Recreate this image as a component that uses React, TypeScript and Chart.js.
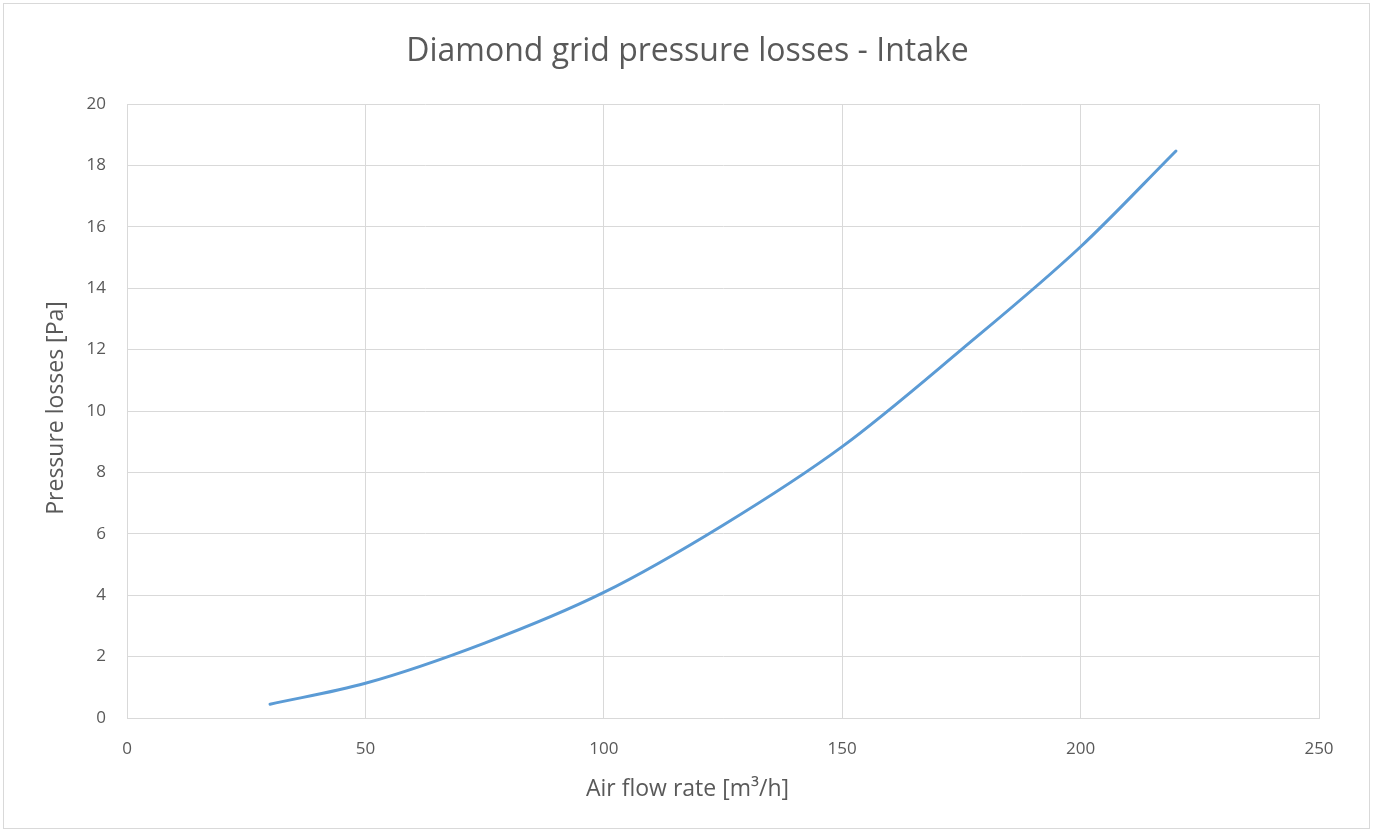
import React, { useEffect, useRef } from "react";
import { Chart, registerables } from "chart.js";

Chart.register(...registerables);

const airFlow = [30, 50, 75, 100, 125, 150, 175, 200, 220];
const pressureLoss = [0.45, 1.13, 2.44, 4.09, 6.28, 8.84, 12.0, 15.35, 18.47];
const chartTitle = "Diamond grid pressure losses - Intake";
const xTitle = "Air flow rate [m\u00B3/h]";
const yTitle = "Pressure losses [Pa]";

const FONT = "'Open Sans', sans-serif";
const TEXT = "#595959";
const GRID = "#d9d9d9";

const axisTitles = {
  id: "axisTitles",
  afterDraw(chart: any) {
    const ctx = chart.ctx;
    ctx.save();
    ctx.fillStyle = TEXT;
    ctx.font = `23px ${FONT}`;
    ctx.textAlign = "center";
    ctx.textBaseline = "middle";
    ctx.fillText(xTitle, chart.width / 2, 789);
    ctx.translate(56, 408);
    ctx.rotate(-Math.PI / 2);
    ctx.fillText(yTitle, 0, 0);
    ctx.restore();
  },
};

export default function App() {
  const ref = useRef<HTMLCanvasElement | null>(null);

  useEffect(() => {
    if (!ref.current) return;
    const chart = new Chart(ref.current, {
      type: "scatter",
      data: {
        datasets: [
          {
            label: "Pressure losses",
            data: airFlow.map((x, i) => ({ x, y: pressureLoss[i] })),
            showLine: true,
            borderColor: "#5b9bd5",
            backgroundColor: "#5b9bd5",
            borderWidth: 3,
            pointRadius: 0,
            cubicInterpolationMode: "monotone",
            borderCapStyle: "round",
          },
        ],
      },
      plugins: [axisTitles],
      options: {
        responsive: false,
        animation: false,
        layout: { padding: 0 },
        plugins: {
          legend: { display: false },
          tooltip: { enabled: false },
          title: {
            display: true,
            text: chartTitle,
            color: TEXT,
            font: { family: FONT, size: 32, weight: "normal" },
            padding: { top: 33, bottom: 32.6 },
          },
        },
        scales: {
          x: {
            type: "linear",
            min: 0,
            max: 250,
            ticks: {
              stepSize: 50,
              color: TEXT,
              font: { family: FONT, size: 17 },
              padding: 21,
              maxRotation: 0,
            },
            grid: { color: GRID, lineWidth: 1, drawTicks: false },
            border: { color: GRID, width: 1 },
            afterFit: (s: any) => {
              s.height = 116;
            },
          },
          y: {
            type: "linear",
            min: 0,
            max: 20,
            ticks: {
              stepSize: 2,
              color: TEXT,
              font: { family: FONT, size: 17 },
              padding: 21,
            },
            grid: { color: GRID, lineWidth: 1, drawTicks: false },
            border: { color: GRID, width: 1 },
            afterFit: (s: any) => {
              s.width = 127;
            },
          },
          yRightSpace: {
            type: "linear",
            position: "right",
            display: true,
            min: 0,
            max: 20,
            ticks: { display: false },
            grid: { display: false, drawOnChartArea: false, drawTicks: false },
            border: { display: false },
            afterFit: (s: any) => {
              s.width = 56;
            },
          },
        },
      },
    });
    return () => chart.destroy();
  }, []);

  return (
    <div
      style={{
        position: "fixed",
        left: 0,
        top: 0,
        width: 1375,
        height: 834,
        background: "#fff",
      }}
    >
      <div
        style={{
          position: "absolute",
          left: 3,
          top: 3,
          width: 1367,
          height: 826,
          border: "1px solid #d9d9d9",
          boxSizing: "border-box",
          pointerEvents: "none",
        }}
      />
      <canvas ref={ref} width={1375} height={834} style={{ position: "absolute", left: 0, top: 0 }} />
    </div>
  );
}
